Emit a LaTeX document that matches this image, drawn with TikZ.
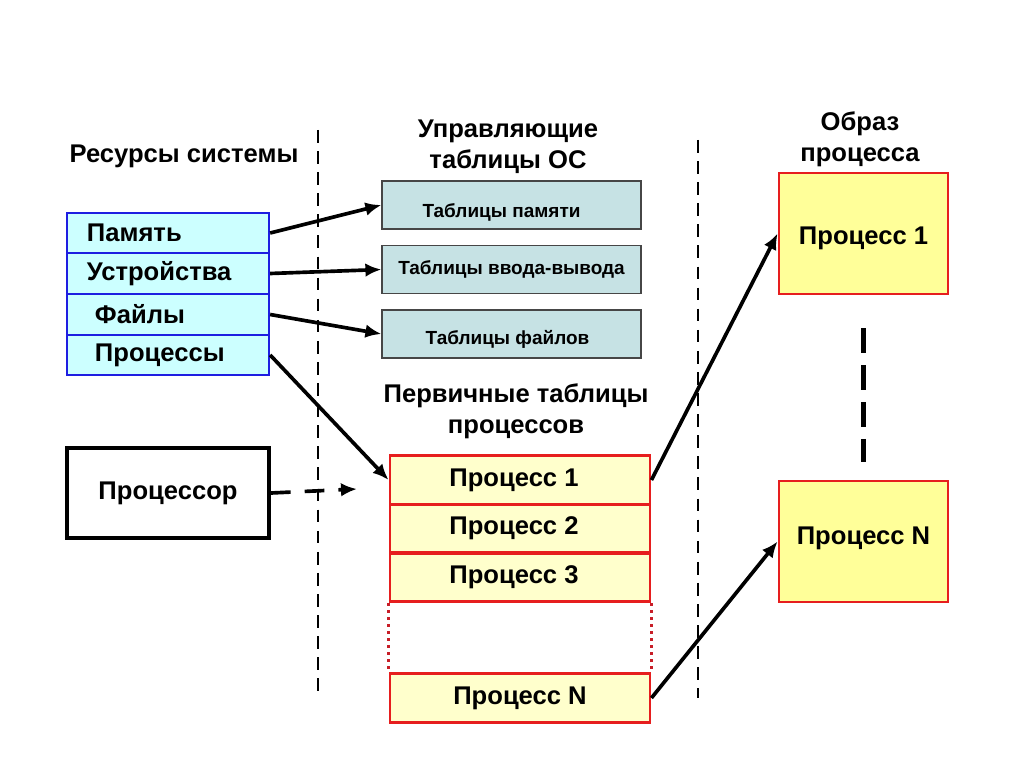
\documentclass[tikz,border=0pt]{standalone}
\usepackage{fontspec}
\setmainfont{Liberation Sans}
\usetikzlibrary{arrows.meta}
\definecolor{resblue}{RGB}{30,30,225}
\definecolor{rescyan}{RGB}{204,255,255}
\definecolor{tabfill}{RGB}{198,226,228}
\definecolor{tabline}{RGB}{70,70,70}
\definecolor{procred}{RGB}{230,30,30}
\definecolor{procdot}{RGB}{200,30,40}
\definecolor{procfill}{RGB}{255,255,204}
\definecolor{imgfill}{RGB}{255,255,153}
\begin{document}
\begin{tikzpicture}[x=0.025cm,y=-0.025cm,
        font=\fontsize{18.2}{22}\selectfont\bfseries,
        res/.style={draw=resblue, line width=1.6pt, fill=rescyan, minimum width=5.05cm,
            minimum height=1.01cm, text width=4.05cm, inner xsep=0.5cm, align=left},
        tab/.style={draw=tabline, line width=0.8pt, fill=tabfill, minimum width=6.475cm,
            minimum height=1.2cm, font=\fontsize{13.5}{16}\selectfont\bfseries},
        ptab/.style={draw=procred, line width=2pt, fill=procfill, minimum width=6.5cm, minimum height=1.21cm},
        img/.style={draw=procred, line width=2pt, fill=imgfill, minimum width=4.225cm, minimum height=3.025cm},
        link/.style={-{Latex[length=4mm,width=3.4mm]}, line width=2.6pt},
        sep/.style={dash pattern=on 9pt off 6pt, line width=1.8pt}]
        \useasboundingbox (0,0) rectangle (1024,767);
        % separators
        \draw[sep] (318,130) -- (318,692);
        \draw[sep] (698,140) -- (698,698);
        % headings
        \node (hres) at (184,156) {Ресурсы системы};
        \node[align=center] (hctl) at (508,147) {Управляющие\\таблицы ОС};
        \node[align=center] (hprim) at (516,411) {Первичные таблицы\\процессов};
        \node[align=center] (himg) at (860,139) {Образ\\процесса};
        % system resources
        \node[res] (mem) at (168,233) {Память};
        \node[res] (dev) at (168,273.5) {Устройства};
        \node[res] (fil) at (168,314.5) {\hspace*{0.2cm}Файлы};
        \node[res] (prc) at (168,355) {\hspace*{0.2cm}Процессы};
        \node[draw, line width=2.8pt, fill=white, minimum width=5.05cm, minimum height=2.25cm] (cpu) at (168,493) {Процессор};
        \coordinate (cpuend) at (357,489);
        % OS tables
        \node[tab] (tmem) at (511.5,205) {\hspace*{-0.5cm}\raisebox{-0.3cm}[0pt][0pt]{Таблицы памяти}};
        \node[tab] (tio) at (511.5,269.5) {Таблицы ввода-вывода};
        \node[tab] (tfil) at (511.5,334) {\hspace*{-0.2cm}\raisebox{-0.27cm}[0pt][0pt]{Таблицы файлов}};
        % primary process tables
        \node[ptab] (pt1) at (520,480) {\hspace*{-0.3cm}Процесс 1};
        \node[ptab] (pt2) at (520,528.5) {\hspace*{-0.3cm}Процесс 2};
        \node[ptab] (pt3) at (520,577.5) {\hspace*{-0.3cm}Процесс 3};
        \node[ptab] (ptN) at (520,698) {Процесс N};
        \draw[procdot, line width=2.4pt, dash pattern=on 2pt off 3pt] (pt3.south west) -- (ptN.north west);
        \draw[procdot, line width=2.4pt, dash pattern=on 2pt off 3pt] (pt3.south east) -- (ptN.north east);
        % process images
        \node[img] (img1) at (863.5,233.5) {\raisebox{-0.27cm}[0pt][0pt]{Процесс 1}};
        \node[img] (imgN) at (863.5,541.5) {\raisebox{-0.07cm}[0pt][0pt]{Процесс N}};
        \draw[line width=3.5pt, dash pattern=on 17.7pt off 8.5pt] (img1.south)++(0,33) -- ([yshift=0.45cm]imgN.north);
        % arrows
        \draw[link] (mem.east) -- (tmem.west);
        \draw[link] (dev.east) -- (tio.west);
        \draw[link] (fil.east) -- (tfil.west);
        \draw[link] (prc.east) -- (pt1.west);
        \draw[link, dash pattern=on 14pt off 10pt] (cpu.east) -- (cpuend);
        \draw[link] (pt1.east) -- (img1.west);
        \draw[link] (ptN.east) -- (imgN.west);
    \end{tikzpicture}
\end{document}
